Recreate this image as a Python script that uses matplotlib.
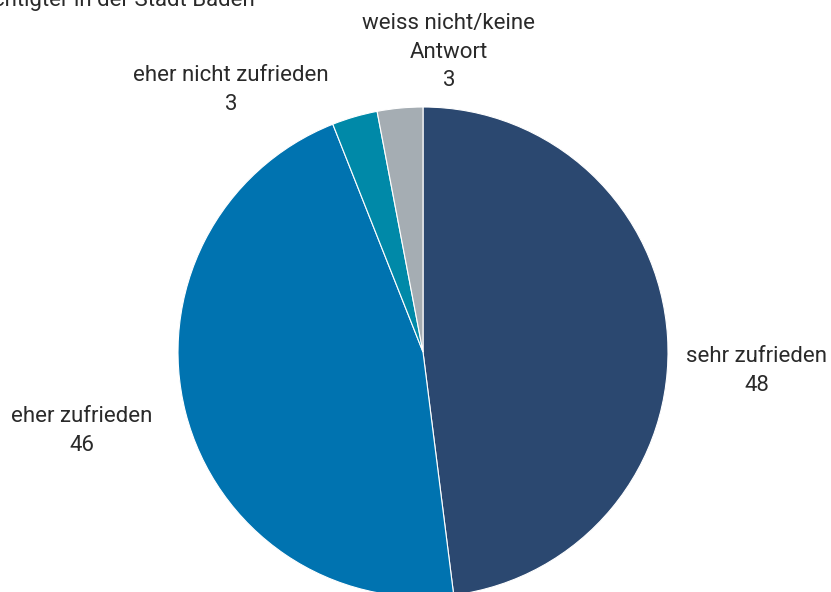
import matplotlib as mpl

mpl.use("Agg")

import matplotlib.pyplot as plt

categories = ["sehr zufrieden", "eher zufrieden", "eher nicht zufrieden",
              "weiss nicht/keine\nAntwort"]
values = [48, 46, 3, 3]
colors = ["#2B4870", "#0073B0", "#0089A8", "#A5ADB3"]

# label anchor (pixel x, pixel y from top) of each category block
label_pos = [(757, 371), (82, 431), (231, 90), (449, 52)]

W, H = 831, 592
plt.rcParams["font.family"] = ["Roboto", "DejaVu Sans"]

fig = plt.figure(figsize=(W / 100, H / 100), dpi=100)
ax = fig.add_axes([0, 0, 1, 1])

cx, cy, r = 423, 352, 245
# y axis runs downward, so start at -90 and go "counterclockwise" in data
# coordinates, which reads clockwise from 12 o'clock on screen
wedges, _ = ax.pie(values, colors=colors, startangle=-90, counterclock=True,
                   center=(cx, cy), radius=r, frame=True,
                   wedgeprops=dict(edgecolor="white", linewidth=0.8))
ax.set_xlim(0, W)
ax.set_ylim(H, 0)
ax.set_aspect("equal")
ax.axis("off")

for name, val, (x, y) in zip(categories, values, label_pos):
    ax.text(x, y, f"{name}\n{val}", ha="center", va="center",
            fontsize=16, color="#2a2a2a", linespacing=1.5)

ax.text(255, 6, "Zufriedenheit der Stimmberechtigter in der Stadt Baden",
        ha="right", va="baseline", fontsize=16, color="#2a2a2a")

fig.savefig("out.png", dpi=100)
